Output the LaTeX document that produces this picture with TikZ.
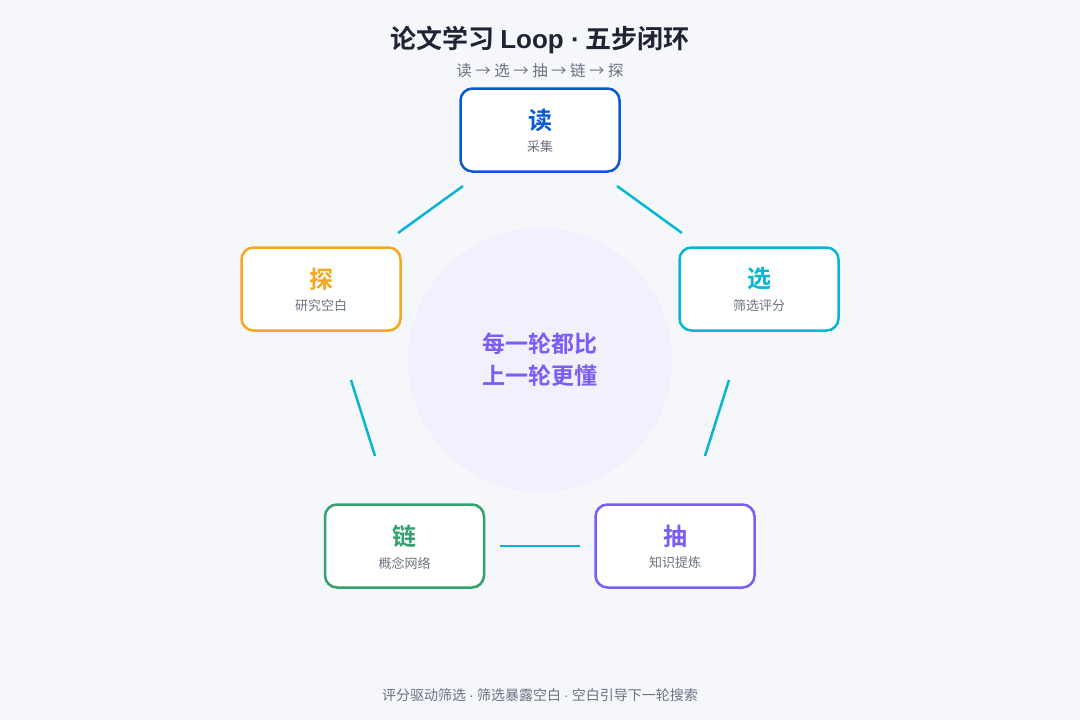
\documentclass[tikz,border=0pt]{standalone}
\usepackage{fontspec}
\setmainfont{Noto Sans CJK SC}[BoldFont={Noto Sans CJK SC Bold}]
\newfontfamily\latinfont{Liberation Sans}
\newcommand{\mdot}{{\latinfont ·}}
\definecolor{bg}{HTML}{F5F7FB}
\definecolor{titlec}{HTML}{1E2433}
\definecolor{greyt}{HTML}{6B7280}
\definecolor{cblue}{HTML}{0A58D6}
\definecolor{ccyan}{HTML}{06B6D4}
\definecolor{cpurple}{HTML}{7B5CF5}
\definecolor{cgreen}{HTML}{34A070}
\definecolor{corange}{HTML}{F5A623}
\definecolor{circfill}{HTML}{F1F0FD}
\tikzset{
  stepbox/.style={draw=#1, line width=2.5pt, rounded corners=12pt, fill=white,
    minimum width=159pt, minimum height=83pt, inner sep=0pt},
  steptitle/.style={text=#1, font=\fontsize{24}{28}\selectfont\bfseries},
  stepsub/.style={text=greyt, font=\fontsize{13}{16}\selectfont},
  link/.style={draw=ccyan, line width=2.5pt},
}
\begin{document}
\begin{tikzpicture}[x=1pt,y=-1pt]
\useasboundingbox[fill=bg] (0,0) rectangle (1080,720);
\node[fill=circfill, circle, minimum size=264pt, inner sep=0pt] (circ) at (540,360) {};
\node[text=titlec, font=\fontsize{26}{30}\selectfont\bfseries] (title) at (540,40) {论文学习 {\latinfont\bfseries Loop ·} 五步闭环};
\node[text=greyt, font=\fontsize{15.5}{18}\selectfont] (subtitle) at (540,71) {读 → 选 → 抽 → 链 → 探};
\node[text=greyt, font=\fontsize{14}{17}\selectfont] (footer) at (540,695) {评分驱动筛选 \mdot{} 筛选暴露空白 \mdot{} 空白引导下一轮搜索};
\node[text=cpurple, font=\fontsize{23}{32}\selectfont\bfseries, align=center] (center) at (540,360) {每一轮都比\\上一轮更懂};

\node[stepbox=cblue] (read) at (540,130) {};
\node[steptitle=cblue] (readT) at (540,120) {读};
\node[stepsub] (readS) at (540,147) {采集};

\node[stepbox=ccyan] (sel) at (759,289) {};
\node[steptitle=ccyan] (selT) at (759,279) {选};
\node[stepsub] (selS) at (759,306) {筛选评分};

\node[stepbox=cpurple] (ext) at (675,546) {};
\node[steptitle=cpurple] (extT) at (675,536) {抽};
\node[stepsub] (extS) at (675,563) {知识提炼};

\node[stepbox=cgreen] (chain) at (404.5,546) {};
\node[steptitle=cgreen] (chainT) at (404.5,536) {链};
\node[stepsub] (chainS) at (404.5,563) {概念网络};

\node[stepbox=corange] (exp) at (321,289) {};
\node[steptitle=corange] (expT) at (321,279) {探};
\node[stepsub] (expS) at (321,306) {研究空白};

\coordinate (a1) at (617,186); \coordinate (a2) at (682,233);
\coordinate (b1) at (729,380); \coordinate (b2) at (705,456);
\coordinate (c1) at (580,546); \coordinate (c2) at (500,546);
\coordinate (d1) at (375,456); \coordinate (d2) at (351,380);
\coordinate (e1) at (398,233); \coordinate (e2) at (463,186);
\draw[link] (a1) -- (a2);
\draw[link] (b1) -- (b2);
\draw[link] (c1) -- (c2);
\draw[link] (d1) -- (d2);
\draw[link] (e1) -- (e2);
\end{tikzpicture}
\end{document}
